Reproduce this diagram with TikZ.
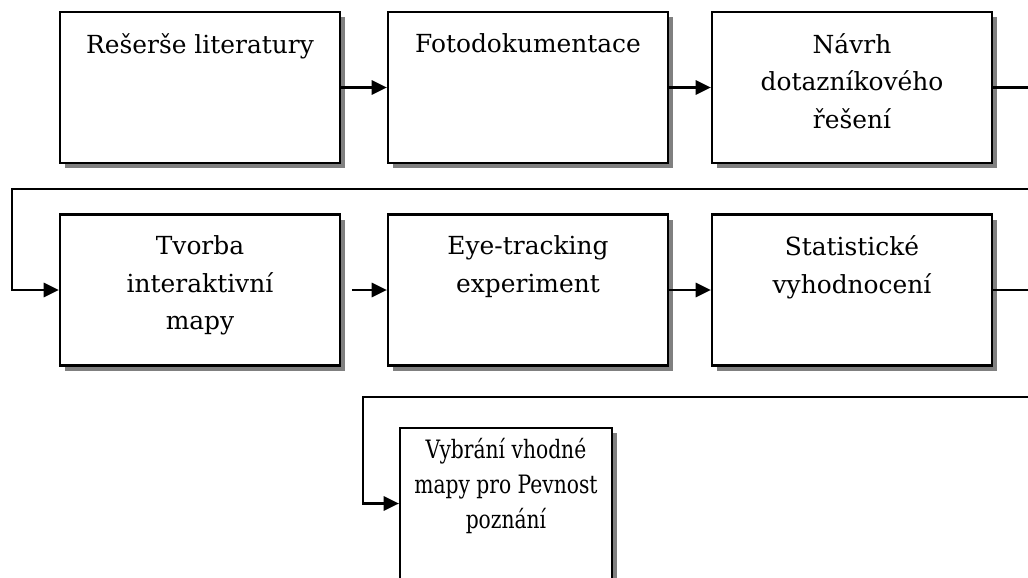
\documentclass[tikz,border=0pt]{standalone}
\usepackage{fontspec}
\setmainfont{DejaVu Serif}
\usetikzlibrary{positioning,shadows,arrows.meta}

\begin{document}
\begin{tikzpicture}[x=0.025cm, y=-0.025cm]
\tikzset{
    stage/.style={rectangle, draw, line width=1.6pt, fill=white, minimum width=7cm, minimum height=3.78cm,
        drop shadow={shadow xshift=0.13cm, shadow yshift=-0.13cm, fill=black!50, opacity=1}},
    small/.style={stage, minimum width=5.3cm},
    caption/.style={inner sep=0pt, align=center, font=\fontsize{17.7}{26.6}\selectfont},
    narrow/.style={caption, transform shape, xscale=0.8, font=\fontsize{18}{25}\selectfont},
    flow/.style={-{Triangle[length=0.38cm, width=0.36cm]}, line width=1.5pt}
}
\clip (0,0) rectangle (1028,578);

% bloky procesu
\node[stage] (b1) at (200,87.5) {};
\node[stage] (b2) at (528,87.5) {};
\node[stage] (b3) at (852,87.5) {};
\node[stage] (b4) at (200,290) {};
\node[stage] (b5) at (528,290) {};
\node[stage] (b6) at (852,290) {};
\node[small] (b7) at (506,503.5) {};

% popisky
\node[caption, below=0.56cm of b1.north] (t1) {Rešerše literatury};
\node[caption, below=0.56cm of b2.north] (t2) {Fotodokumentace};
\node[caption, below=0.56cm of b3.north] (t3) {Návrh\\dotazníkového\\řešení};
\node[caption, below=0.56cm of b4.north] (t4) {Tvorba\\interaktivní\\mapy};
\node[caption, below=0.56cm of b5.north] (t5) {Eye-tracking\\experiment};
\node[caption, below=0.56cm of b6.north] (t6) {Statistické\\vyhodnocení};
\node[narrow, below=0.28cm of b7.north] (t7) {Vybrání vhodné\\mapy pro Pevnost\\poznání};

% body pro zalomené spoje
\coordinate (r1) at (1045,189);
\coordinate (l1) at (12,189);
\coordinate (r2) at (1045,397);
\coordinate (l2) at (363,397);

% spoje
\draw[flow] (b1.east) -- (b2.west);
\draw[flow] (b2.east) -- (b3.west);
\draw[flow] (b3.east) -| (r1) -- (l1) |- (b4.west);
\draw[flow, shorten <=0.27cm] (b4.east) -- (b5.west);
\draw[flow] (b5.east) -- (b6.west);
\draw[flow] (b6.east) -| (r2) -- (l2) |- (b7.west);
\end{tikzpicture}
\end{document}
